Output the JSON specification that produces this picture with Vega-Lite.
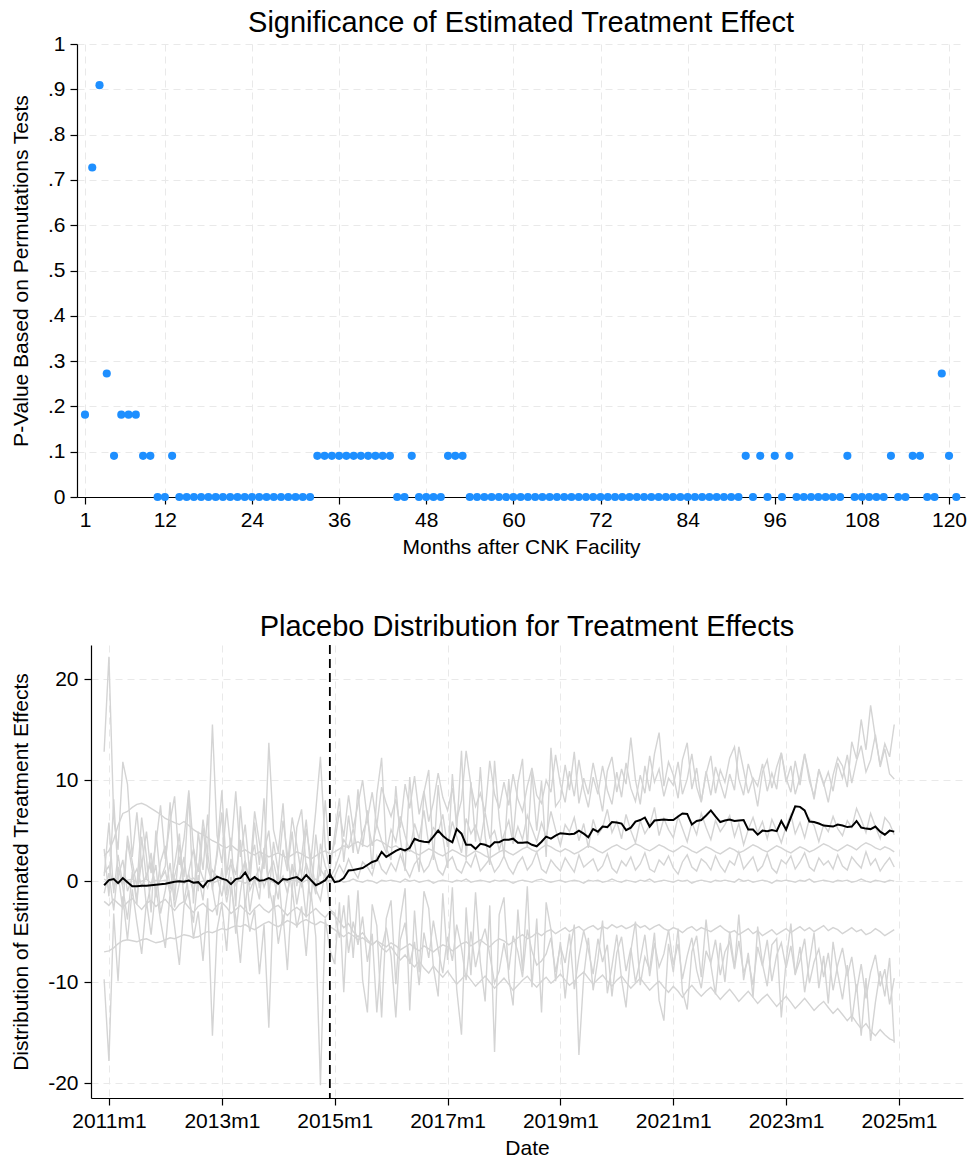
{
"$schema": "https://vega.github.io/schema/vega-lite/v6.json",
"background": "white",
"padding": {"left": 10, "top": 9, "right": 5, "bottom": 0},
"columns": 1,
"align": "none",
"spacing": 56,
"config": {
  "font": "Liberation Sans",
  "view": {"stroke": null},
  "axis": {"domainColor": "black", "domainWidth": 1.2, "tickColor": "black", "tickSize": 7, "tickWidth": 1.2, "labelColor": "black", "labelFontSize": 21, "titleColor": "black", "titleFontSize": 21, "titleFontWeight": "normal", "gridColor": "#e9e9e9", "gridDash": [7, 5], "gridWidth": 1, "labelPadding": 5, "labelFlush": false, "labelOverlap": false, "titlePadding": 6},
  "axisY": {"titlePadding": 16},
  "title": {"fontSize": 29, "fontWeight": "normal", "color": "black", "offset": -5, "anchor": "middle", "frame": "group"}
},
"concat": [
{
  "width": 874, "height": 453,
  "title": {"text": "Significance of Estimated Treatment Effect", "dx": -7},
  "data": {"values": [
{"m":1,"p":0.1818},{"m":2,"p":0.7273},{"m":3,"p":0.9091},{"m":4,"p":0.2727},{"m":5,"p":0.0909},{"m":6,"p":0.1818},{"m":7,"p":0.1818},{"m":8,"p":0.1818},{"m":9,"p":0.0909},{"m":10,"p":0.0909},
{"m":11,"p":0},{"m":12,"p":0},{"m":13,"p":0.0909},{"m":14,"p":0},{"m":15,"p":0},{"m":16,"p":0},{"m":17,"p":0},{"m":18,"p":0},{"m":19,"p":0},{"m":20,"p":0},
{"m":21,"p":0},{"m":22,"p":0},{"m":23,"p":0},{"m":24,"p":0},{"m":25,"p":0},{"m":26,"p":0},{"m":27,"p":0},{"m":28,"p":0},{"m":29,"p":0},{"m":30,"p":0},
{"m":31,"p":0},{"m":32,"p":0},{"m":33,"p":0.0909},{"m":34,"p":0.0909},{"m":35,"p":0.0909},{"m":36,"p":0.0909},{"m":37,"p":0.0909},{"m":38,"p":0.0909},{"m":39,"p":0.0909},{"m":40,"p":0.0909},
{"m":41,"p":0.0909},{"m":42,"p":0.0909},{"m":43,"p":0.0909},{"m":44,"p":0},{"m":45,"p":0},{"m":46,"p":0.0909},{"m":47,"p":0},{"m":48,"p":0},{"m":49,"p":0},{"m":50,"p":0},
{"m":51,"p":0.0909},{"m":52,"p":0.0909},{"m":53,"p":0.0909},{"m":54,"p":0},{"m":55,"p":0},{"m":56,"p":0},{"m":57,"p":0},{"m":58,"p":0},{"m":59,"p":0},{"m":60,"p":0},
{"m":61,"p":0},{"m":62,"p":0},{"m":63,"p":0},{"m":64,"p":0},{"m":65,"p":0},{"m":66,"p":0},{"m":67,"p":0},{"m":68,"p":0},{"m":69,"p":0},{"m":70,"p":0},
{"m":71,"p":0},{"m":72,"p":0},{"m":73,"p":0},{"m":74,"p":0},{"m":75,"p":0},{"m":76,"p":0},{"m":77,"p":0},{"m":78,"p":0},{"m":79,"p":0},{"m":80,"p":0},
{"m":81,"p":0},{"m":82,"p":0},{"m":83,"p":0},{"m":84,"p":0},{"m":85,"p":0},{"m":86,"p":0},{"m":87,"p":0},{"m":88,"p":0},{"m":89,"p":0},{"m":90,"p":0},
{"m":91,"p":0},{"m":92,"p":0.0909},{"m":93,"p":0},{"m":94,"p":0.0909},{"m":95,"p":0},{"m":96,"p":0.0909},{"m":97,"p":0},{"m":98,"p":0.0909},{"m":99,"p":0},{"m":100,"p":0},
{"m":101,"p":0},{"m":102,"p":0},{"m":103,"p":0},{"m":104,"p":0},{"m":105,"p":0},{"m":106,"p":0.0909},{"m":107,"p":0},{"m":108,"p":0},{"m":109,"p":0},{"m":110,"p":0},
{"m":111,"p":0},{"m":112,"p":0.0909},{"m":113,"p":0},{"m":114,"p":0},{"m":115,"p":0.0909},{"m":116,"p":0.0909},{"m":117,"p":0},{"m":118,"p":0},{"m":119,"p":0.2727},{"m":120,"p":0.0909},
{"m":121,"p":0}
  ]},
  "mark": {"type": "circle", "size": 66, "color": "#1e8fff", "opacity": 1, "clip": false},
  "encoding": {
    "x": {"field": "m", "type": "quantitative", "title": "Months after CNK Facility",
          "scale": {"domain": [-0.1, 122.2], "range": [-14, 874], "nice": false, "zero": false},
          "axis": {"values": [1, 12, 24, 36, 48, 60, 72, 84, 96, 108, 120]}},
    "y": {"field": "p", "type": "quantitative", "title": "P-Value Based on Permutations Tests",
          "scale": {"domain": [0, 1], "nice": false},
          "axis": {"offset": 14, "values": [0, 0.1, 0.2, 0.3, 0.4, 0.5, 0.6, 0.7, 0.8, 0.9, 1],
                   "labelExpr": "datum.value == 0 ? '0' : datum.value >= 1 ? '1' : replace(format(datum.value, '.1f'), '0.', '.')"}}
  }
},
{
  "width": 872, "height": 453,
  "title": {"text": "Placebo Distribution for Treatment Effects", "offset": 2},
  "data": {"values": [
{"d":"2010-12-01","b":-0.4,"a":0.2,"c":0.8,"p":12.8,"n":-9.7,"s":-7.0,"u":2.5,"q":0.5,"r":-1.2,"w":-2.0,"t":3.2},
{"d":"2011-01-01","b":0.1,"a":-0.1,"c":1.5,"p":22.2,"n":-17.8,"s":-6.9,"u":3.0,"q":5.8,"r":0.8,"w":-2.4,"t":-1.5},
{"d":"2011-02-01","b":0.2,"a":0.3,"c":-0.6,"p":6.2,"n":-3.2,"s":-6.6,"u":4.1,"q":-1.2,"r":-2.9,"w":-1.8,"t":8.1},
{"d":"2011-03-01","b":-0.2,"a":0.0,"c":0.4,"p":3.1,"n":-9.9,"s":-6.2,"u":5.5,"q":2.6,"r":1.4,"w":-2.2,"t":0.7},
{"d":"2011-04-01","b":0.3,"a":-0.2,"c":2.1,"p":11.8,"n":-1.5,"s":-5.9,"u":6.7,"q":-0.4,"r":-0.6,"w":-2.6,"t":-2.8},
{"d":"2011-05-01","b":-0.1,"a":0.1,"c":-1.0,"p":9.6,"n":-5.8,"s":-5.8,"u":6.9,"q":3.9,"r":-3.8,"w":-2.1,"t":4.5},
{"d":"2011-06-01","b":-0.5,"a":0.2,"c":0.3,"p":2.4,"n":-0.8,"s":-5.9,"u":7.3,"q":1.1,"r":0.9,"w":-1.7,"t":1.9},
{"d":"2011-07-01","b":-0.5,"a":-0.1,"c":1.2,"p":6.8,"n":-4.1,"s":-6.0,"u":7.6,"q":-2.3,"r":-1.7,"w":-2.3,"t":-0.6},
{"d":"2011-08-01","b":-0.45,"a":0.0,"c":-0.5,"p":1.5,"n":-7.2,"s":-5.8,"u":7.7,"q":4.4,"r":2.1,"w":-2.8,"t":6.3},
{"d":"2011-09-01","b":-0.45,"a":0.2,"c":0.6,"p":4.9,"n":-2.0,"s":-5.7,"u":7.5,"q":0.2,"r":-2.5,"w":-2.2,"t":2.4},
{"d":"2011-10-01","b":-0.4,"a":-0.2,"c":1.8,"p":0.8,"n":-5.3,"s":-5.9,"u":7.2,"q":2.8,"r":-0.3,"w":-1.9,"t":-3.1},
{"d":"2011-11-01","b":-0.35,"a":0.1,"c":-0.8,"p":3.7,"n":-0.6,"s":-6.1,"u":6.9,"q":-1.6,"r":1.6,"w":-2.5,"t":5.0},
{"d":"2011-12-01","b":-0.3,"a":0.0,"c":0.2,"p":7.5,"n":-3.9,"s":-6.0,"u":6.6,"q":1.9,"r":-3.2,"w":-2.1,"t":0.2},
{"d":"2012-01-01","b":-0.25,"a":0.1,"c":1.0,"p":2.2,"n":-6.6,"s":-5.8,"u":6.2,"q":3.5,"r":-0.9,"w":-1.8,"t":1.5},
{"d":"2012-02-01","b":-0.15,"a":-0.1,"c":-1.3,"p":5.9,"n":-1.2,"s":-5.6,"u":6.0,"q":-0.8,"r":1.8,"w":-2.4,"t":7.8},
{"d":"2012-03-01","b":-0.05,"a":0.2,"c":0.5,"p":8.4,"n":-4.5,"s":-5.7,"u":5.8,"q":1.6,"r":-2.6,"w":-2.9,"t":-1.9},
{"d":"2012-04-01","b":0.0,"a":0.0,"c":2.4,"p":1.6,"n":-8.3,"s":-5.5,"u":5.6,"q":4.7,"r":-0.2,"w":-2.3,"t":3.6},
{"d":"2012-05-01","b":-0.05,"a":-0.2,"c":-0.2,"p":4.2,"n":-2.4,"s":-5.3,"u":5.9,"q":-2.1,"r":2.4,"w":-2.0,"t":0.4},
{"d":"2012-06-01","b":0.05,"a":0.1,"c":0.7,"p":9.0,"n":-0.9,"s":-5.4,"u":5.5,"q":0.9,"r":-1.5,"w":-2.6,"t":8.7},
{"d":"2012-07-01","b":-0.15,"a":0.3,"c":-1.1,"p":3.3,"n":-5.7,"s":-5.6,"u":5.1,"q":3.2,"r":-4.1,"w":-3.1,"t":-2.2},
{"d":"2012-08-01","b":-0.1,"a":-0.1,"c":1.6,"p":0.9,"n":-3.0,"s":-5.5,"u":4.8,"q":-1.0,"r":0.6,"w":-2.5,"t":4.9},
{"d":"2012-09-01","b":-0.6,"a":0.0,"c":0.3,"p":6.1,"n":-7.9,"s":-5.2,"u":4.6,"q":5.3,"r":-1.9,"w":-2.2,"t":1.1},
{"d":"2012-10-01","b":0.0,"a":0.1,"c":-0.7,"p":2.7,"n":-1.7,"s":-5.0,"u":4.3,"q":1.4,"r":2.8,"w":-2.7,"t":6.6},
{"d":"2012-11-01","b":0.1,"a":-0.2,"c":1.1,"p":15.5,"n":-15.3,"s":-5.1,"u":4.0,"q":-0.3,"r":-0.7,"w":-3.0,"t":-0.9},
{"d":"2012-12-01","b":0.45,"a":0.0,"c":0.4,"p":4.5,"n":-4.8,"s":-4.9,"u":3.8,"q":2.5,"r":-3.4,"w":-2.4,"t":3.0},
{"d":"2013-01-01","b":0.25,"a":0.2,"c":-1.5,"p":1.8,"n":-2.2,"s":-4.7,"u":3.5,"q":6.8,"r":1.3,"w":-2.1,"t":9.0},
{"d":"2013-02-01","b":0.1,"a":0.0,"c":0.9,"p":7.2,"n":-6.9,"s":-4.8,"u":3.3,"q":-1.4,"r":-2.1,"w":-2.6,"t":0.6},
{"d":"2013-03-01","b":-0.3,"a":-0.1,"c":1.7,"p":3.0,"n":-0.5,"s":-4.6,"u":3.6,"q":2.2,"r":0.4,"w":-3.2,"t":4.3},
{"d":"2013-04-01","b":0.2,"a":0.1,"c":-0.4,"p":8.9,"n":-3.6,"s":-4.4,"u":3.2,"q":0.6,"r":-5.2,"w":-2.8,"t":-2.5},
{"d":"2013-05-01","b":0.3,"a":0.0,"c":0.6,"p":2.4,"n":-8.1,"s":-4.5,"u":2.9,"q":4.1,"r":-1.1,"w":-2.4,"t":7.4},
{"d":"2013-06-01","b":0.85,"a":-0.2,"c":2.0,"p":5.6,"n":-1.9,"s":-4.3,"u":3.1,"q":-2.6,"r":2.0,"w":-2.9,"t":2.0},
{"d":"2013-07-01","b":0.05,"a":0.1,"c":-0.9,"p":0.7,"n":-5.0,"s":-4.6,"u":2.8,"q":1.8,"r":-3.0,"w":-3.3,"t":-0.4},
{"d":"2013-08-01","b":0.4,"a":0.2,"c":0.2,"p":6.9,"n":-2.8,"s":-4.8,"u":2.6,"q":3.6,"r":0.2,"w":-2.7,"t":5.8},
{"d":"2013-09-01","b":0.05,"a":-0.1,"c":1.3,"p":3.8,"n":-9.2,"s":-4.5,"u":2.9,"q":-0.7,"r":-1.8,"w":-2.3,"t":1.6},
{"d":"2013-10-01","b":0.1,"a":0.0,"c":-0.6,"p":1.2,"n":-4.3,"s":-4.2,"u":2.7,"q":2.9,"r":3.3,"w":-2.8,"t":8.2},
{"d":"2013-11-01","b":0.3,"a":0.1,"c":0.8,"p":13.7,"n":-14.5,"s":-4.0,"u":2.4,"q":5.0,"r":-0.6,"w":-3.1,"t":-1.7},
{"d":"2013-12-01","b":0.1,"a":-0.1,"c":1.9,"p":5.1,"n":-1.4,"s":-4.3,"u":2.6,"q":0.4,"r":-2.7,"w":-2.6,"t":3.9},
{"d":"2014-01-01","b":-0.25,"a":0.0,"c":-0.3,"p":2.9,"n":-6.2,"s":-4.5,"u":2.8,"q":-1.8,"r":0.9,"w":-2.4,"t":0.9},
{"d":"2014-02-01","b":0.2,"a":0.2,"c":0.5,"p":7.7,"n":-3.3,"s":-4.2,"u":2.5,"q":3.1,"r":-4.4,"w":-2.9,"t":6.0},
{"d":"2014-03-01","b":0.15,"a":-0.1,"c":-1.2,"p":1.4,"n":-8.8,"s":-3.9,"u":2.3,"q":1.0,"r":-1.3,"w":-3.4,"t":2.7},
{"d":"2014-04-01","b":0.3,"a":0.1,"c":1.4,"p":6.3,"n":-0.7,"s":-4.1,"u":2.6,"q":4.9,"r":1.7,"w":-2.9,"t":-1.1},
{"d":"2014-05-01","b":0.4,"a":0.0,"c":0.7,"p":3.6,"n":-4.6,"s":-4.4,"u":2.9,"q":-0.5,"r":-2.3,"w":-2.6,"t":5.3},
{"d":"2014-06-01","b":0.05,"a":-0.2,"c":-0.5,"p":0.5,"n":-2.5,"s":-4.0,"u":2.7,"q":2.4,"r":0.5,"w":-3.0,"t":7.1},
{"d":"2014-07-01","b":0.6,"a":0.1,"c":1.8,"p":5.2,"n":-7.4,"s":-3.8,"u":2.4,"q":6.1,"r":-3.6,"w":-3.5,"t":1.3},
{"d":"2014-08-01","b":0.1,"a":0.0,"c":0.1,"p":2.1,"n":-1.1,"s":-4.1,"u":2.2,"q":0.8,"r":2.2,"w":-3.1,"t":-2.0},
{"d":"2014-09-01","b":-0.4,"a":0.2,"c":-0.8,"p":7.0,"n":-5.5,"s":-4.3,"u":2.5,"q":-1.3,"r":-0.8,"w":-2.7,"t":4.6},
{"d":"2014-10-01","b":-0.2,"a":-0.1,"c":1.2,"p":12.3,"n":-20.2,"s":-4.0,"u":2.8,"q":3.7,"r":-1.9,"w":-3.2,"t":0.5},
{"d":"2014-11-01","b":0.1,"a":0.0,"c":0.4,"p":3.4,"n":-3.7,"s":-4.2,"u":3.0,"q":1.5,"r":1.1,"w":-3.6,"t":8.0},
{"d":"2014-12-01","b":0.7,"a":0.1,"c":-0.2,"p":1.0,"n":-6.8,"s":-4.5,"u":2.7,"q":0.3,"r":-2.8,"w":-3.0,"t":2.1},
{"d":"2015-01-01","b":-0.1,"a":0.0,"c":0.5,"p":4.6,"n":-8.2,"s":-4.8,"u":2.9,"q":1.2,"r":-3.2,"w":-3.4,"t":3.8},
{"d":"2015-02-01","b":0.0,"a":0.1,"c":1.6,"p":8.2,"n":-2.1,"s":-5.2,"u":3.2,"q":2.6,"r":-5.6,"w":-4.0,"t":6.9},
{"d":"2015-03-01","b":0.3,"a":-0.1,"c":0.8,"p":1.9,"n":-11.0,"s":-5.5,"u":3.5,"q":4.1,"r":-2.4,"w":-4.6,"t":4.4},
{"d":"2015-04-01","b":1.05,"a":0.0,"c":2.2,"p":6.5,"n":-1.4,"s":-5.1,"u":3.3,"q":3.3,"r":-7.1,"w":-4.2,"t":8.5},
{"d":"2015-05-01","b":1.1,"a":0.2,"c":1.1,"p":2.8,"n":-7.6,"s":-5.4,"u":3.7,"q":5.2,"r":-4.0,"w":-5.0,"t":5.2},
{"d":"2015-06-01","b":1.2,"a":0.0,"c":0.3,"p":9.1,"n":-0.9,"s":-5.8,"u":3.9,"q":2.7,"r":-6.3,"w":-5.5,"t":7.6},
{"d":"2015-07-01","b":1.3,"a":-0.1,"c":1.9,"p":3.4,"n":-9.8,"s":-5.6,"u":3.6,"q":4.8,"r":-3.5,"w":-5.1,"t":10.0},
{"d":"2015-08-01","b":1.6,"a":0.1,"c":1.4,"p":7.0,"n":-13.0,"s":-6.0,"u":3.4,"q":6.1,"r":-8.0,"w":-5.8,"t":6.1},
{"d":"2015-09-01","b":1.9,"a":0.0,"c":0.6,"p":1.2,"n":-2.3,"s":-6.3,"u":3.8,"q":3.5,"r":-5.2,"w":-6.3,"t":8.8},
{"d":"2015-10-01","b":2.05,"a":-0.2,"c":2.5,"p":8.6,"n":-4.4,"s":-5.9,"u":4.1,"q":5.6,"r":-13.0,"w":-5.9,"t":5.5},
{"d":"2015-11-01","b":2.9,"a":0.1,"c":1.2,"p":12.2,"n":-13.5,"s":-6.2,"u":3.9,"q":4.0,"r":-6.7,"w":-6.6,"t":9.3},
{"d":"2015-12-01","b":2.4,"a":0.0,"c":0.7,"p":3.3,"n":-3.7,"s":-6.5,"u":3.6,"q":2.8,"r":-4.6,"w":-7.0,"t":7.7},
{"d":"2016-01-01","b":2.7,"a":0.1,"c":1.8,"p":2.1,"n":-1.9,"s":-6.1,"u":3.3,"q":5.1,"r":-7.4,"w":-6.5,"t":6.4},
{"d":"2016-02-01","b":3.0,"a":0.0,"c":1.0,"p":9.4,"n":-10.2,"s":-6.4,"u":3.5,"q":3.9,"r":-13.5,"w":-7.2,"t":8.1},
{"d":"2016-03-01","b":3.2,"a":-0.1,"c":2.6,"p":4.2,"n":-3.8,"s":-6.8,"u":3.2,"q":6.4,"r":-5.8,"w":-7.8,"t":5.3},
{"d":"2016-04-01","b":3.05,"a":0.2,"c":1.3,"p":1.0,"n":-0.7,"s":-6.5,"u":2.9,"q":4.5,"r":-4.1,"w":-7.3,"t":9.6},
{"d":"2016-05-01","b":3.3,"a":0.0,"c":0.4,"p":10.3,"n":-12.8,"s":-6.2,"u":3.1,"q":2.9,"r":-8.2,"w":-8.0,"t":7.2},
{"d":"2016-06-01","b":4.2,"a":0.1,"c":1.7,"p":3.8,"n":-2.9,"s":-6.6,"u":2.8,"q":5.7,"r":-6.0,"w":-8.5,"t":10.4},
{"d":"2016-07-01","b":4.0,"a":-0.1,"c":2.3,"p":0.9,"n":-9.0,"s":-6.9,"u":2.6,"q":4.2,"r":-10.3,"w":-7.9,"t":6.6},
{"d":"2016-08-01","b":3.9,"a":0.0,"c":0.9,"p":8.8,"n":-1.0,"s":-6.4,"u":2.9,"q":7.0,"r":-5.1,"w":-8.6,"t":8.9},
{"d":"2016-09-01","b":3.85,"a":0.1,"c":1.5,"p":11.0,"n":-2.7,"s":-6.7,"u":3.2,"q":3.6,"r":-7.6,"w":-9.1,"t":5.9},
{"d":"2016-10-01","b":4.4,"a":-0.2,"c":2.8,"p":2.1,"n":-8.5,"s":-7.0,"u":3.0,"q":5.3,"r":-3.9,"w":-8.4,"t":7.8},
{"d":"2016-11-01","b":5.0,"a":0.0,"c":1.1,"p":9.5,"n":-11.4,"s":-6.6,"u":2.7,"q":4.8,"r":-6.8,"w":-9.0,"t":10.7},
{"d":"2016-12-01","b":4.5,"a":0.1,"c":0.6,"p":4.4,"n":-1.2,"s":-6.3,"u":2.5,"q":6.6,"r":-9.1,"w":-9.5,"t":8.3},
{"d":"2017-01-01","b":4.1,"a":0.0,"c":1.9,"p":1.3,"n":-7.8,"s":-6.5,"u":2.8,"q":3.4,"r":-5.5,"w":-8.9,"t":7.0},
{"d":"2017-02-01","b":3.85,"a":-0.1,"c":2.4,"p":10.6,"n":-0.6,"s":-6.9,"u":3.1,"q":5.9,"r":-7.9,"w":-9.6,"t":9.2},
{"d":"2017-03-01","b":5.15,"a":0.1,"c":1.2,"p":5.0,"n":-10.7,"s":-6.6,"u":2.9,"q":4.4,"r":-4.3,"w":-10.2,"t":6.1},
{"d":"2017-04-01","b":4.7,"a":0.0,"c":0.8,"p":12.9,"n":-15.2,"s":-6.2,"u":2.6,"q":2.8,"r":-6.6,"w":-9.7,"t":8.0},
{"d":"2017-05-01","b":3.6,"a":0.2,"c":2.0,"p":2.1,"n":-2.6,"s":-6.0,"u":2.4,"q":6.2,"r":-9.8,"w":-9.2,"t":12.9},
{"d":"2017-06-01","b":3.6,"a":-0.1,"c":1.4,"p":9.8,"n":-9.3,"s":-6.4,"u":2.7,"q":4.7,"r":-5.0,"w":-9.8,"t":9.5},
{"d":"2017-07-01","b":3.2,"a":0.0,"c":2.7,"p":3.9,"n":-1.1,"s":-6.1,"u":3.0,"q":5.5,"r":-8.5,"w":-10.4,"t":7.4},
{"d":"2017-08-01","b":3.7,"a":0.1,"c":1.0,"p":11.3,"n":-8.0,"s":-5.8,"u":2.8,"q":3.8,"r":-6.2,"w":-9.9,"t":8.7},
{"d":"2017-09-01","b":3.6,"a":0.0,"c":1.6,"p":4.4,"n":-11.9,"s":-6.2,"u":2.5,"q":6.8,"r":-4.7,"w":-9.4,"t":6.8},
{"d":"2017-10-01","b":3.4,"a":-0.1,"c":2.2,"p":1.6,"n":-2.4,"s":-6.5,"u":2.3,"q":4.3,"r":-7.3,"w":-10.0,"t":11.9},
{"d":"2017-11-01","b":3.85,"a":0.1,"c":0.9,"p":11.9,"n":-16.9,"s":-6.0,"u":2.6,"q":5.0,"r":-10.1,"w":-10.6,"t":8.6},
{"d":"2017-12-01","b":3.85,"a":0.0,"c":1.5,"p":6.2,"n":-3.3,"s":-5.7,"u":2.9,"q":3.1,"r":-8.9,"w":-10.1,"t":7.2},
{"d":"2018-01-01","b":4.1,"a":0.1,"c":2.5,"p":2.5,"n":-1.6,"s":-5.9,"u":3.1,"q":4.6,"r":-6.1,"w":-9.6,"t":9.8},
{"d":"2018-02-01","b":4.1,"a":0.0,"c":1.3,"p":10.1,"n":-9.6,"s":-6.3,"u":2.8,"q":6.0,"r":-8.8,"w":-10.2,"t":7.5},
{"d":"2018-03-01","b":4.2,"a":-0.2,"c":0.7,"p":4.2,"n":-12.3,"s":-6.0,"u":2.6,"q":3.7,"r":-5.4,"w":-10.8,"t":10.6},
{"d":"2018-04-01","b":3.8,"a":0.0,"c":1.8,"p":9.7,"n":-2.8,"s":-5.6,"u":2.9,"q":5.4,"r":-7.0,"w":-10.3,"t":8.1},
{"d":"2018-05-01","b":3.8,"a":0.1,"c":2.4,"p":12.1,"n":-8.9,"s":-5.3,"u":3.2,"q":4.1,"r":-9.5,"w":-9.8,"t":6.9},
{"d":"2018-06-01","b":3.85,"a":0.0,"c":1.1,"p":3.3,"n":-0.5,"s":-5.7,"u":3.4,"q":6.5,"r":-4.8,"w":-9.4,"t":9.4},
{"d":"2018-07-01","b":3.6,"a":-0.1,"c":1.7,"p":10.8,"n":-10.5,"s":-5.5,"u":3.1,"q":5.2,"r":-6.9,"w":-10.0,"t":11.2},
{"d":"2018-08-01","b":3.45,"a":0.1,"c":2.9,"p":5.0,"n":-3.7,"s":-5.1,"u":2.9,"q":3.9,"r":-8.3,"w":-10.5,"t":8.5},
{"d":"2018-09-01","b":3.9,"a":0.2,"c":1.2,"p":9.9,"n":-13.0,"s":-5.4,"u":3.3,"q":5.8,"r":-7.9,"w":-9.9,"t":7.7},
{"d":"2018-10-01","b":4.4,"a":0.0,"c":0.8,"p":2.4,"n":-2.1,"s":-5.0,"u":3.6,"q":4.4,"r":-7.2,"w":-9.5,"t":10.0},
{"d":"2018-11-01","b":4.2,"a":-0.1,"c":2.1,"p":13.2,"n":-4.8,"s":-4.8,"u":3.4,"q":6.9,"r":-5.6,"w":-10.1,"t":8.8},
{"d":"2018-12-01","b":4.5,"a":0.0,"c":1.5,"p":7.4,"n":-9.9,"s":-5.2,"u":3.1,"q":5.1,"r":-9.0,"w":-9.7,"t":12.5},
{"d":"2019-01-01","b":4.75,"a":0.1,"c":1.0,"p":8.1,"n":-6.0,"s":-4.9,"u":2.9,"q":3.5,"r":-6.4,"w":-9.2,"t":9.6},
{"d":"2019-02-01","b":4.7,"a":-0.1,"c":2.3,"p":11.5,"n":-11.6,"s":-4.6,"u":3.2,"q":5.6,"r":-8.1,"w":-9.8,"t":7.8},
{"d":"2019-03-01","b":4.65,"a":0.0,"c":1.6,"p":9.0,"n":-7.2,"s":-5.0,"u":3.0,"q":4.9,"r":-5.2,"w":-10.3,"t":10.9},
{"d":"2019-04-01","b":4.7,"a":0.1,"c":0.9,"p":12.8,"n":-4.3,"s":-4.7,"u":2.7,"q":6.3,"r":-10.7,"w":-9.9,"t":8.4},
{"d":"2019-05-01","b":5.0,"a":0.0,"c":2.6,"p":7.7,"n":-17.2,"s":-4.5,"u":2.9,"q":4.0,"r":-7.5,"w":-9.4,"t":12.0},
{"d":"2019-06-01","b":4.7,"a":-0.2,"c":1.4,"p":10.2,"n":-9.4,"s":-4.9,"u":3.2,"q":5.7,"r":-4.9,"w":-9.0,"t":9.1},
{"d":"2019-07-01","b":4.35,"a":0.1,"c":1.8,"p":8.6,"n":-5.6,"s":-4.6,"u":3.5,"q":3.3,"r":-6.8,"w":-9.6,"t":7.3},
{"d":"2019-08-01","b":5.15,"a":0.0,"c":2.2,"p":11.7,"n":-10.8,"s":-4.4,"u":3.3,"q":6.1,"r":-9.2,"w":-10.2,"t":10.3},
{"d":"2019-09-01","b":4.9,"a":0.1,"c":1.0,"p":9.3,"n":-7.7,"s":-4.8,"u":3.0,"q":4.6,"r":-5.7,"w":-9.7,"t":8.6},
{"d":"2019-10-01","b":5.4,"a":-0.1,"c":1.5,"p":6.9,"n":-3.9,"s":-4.5,"u":2.8,"q":5.3,"r":-8.0,"w":-9.3,"t":11.4},
{"d":"2019-11-01","b":5.35,"a":0.0,"c":2.7,"p":10.9,"n":-11.1,"s":-4.7,"u":3.1,"q":7.1,"r":-6.3,"w":-9.9,"t":9.0},
{"d":"2019-12-01","b":5.85,"a":0.2,"c":1.3,"p":12.3,"n":-8.4,"s":-4.3,"u":3.4,"q":4.8,"r":-11.4,"w":-10.4,"t":7.6},
{"d":"2020-01-01","b":5.8,"a":0.0,"c":0.8,"p":8.8,"n":-5.3,"s":-4.6,"u":3.6,"q":5.9,"r":-7.1,"w":-9.8,"t":10.8},
{"d":"2020-02-01","b":5.7,"a":-0.1,"c":2.0,"p":11.1,"n":-9.7,"s":-4.4,"u":3.3,"q":4.2,"r":-5.5,"w":-9.4,"t":8.3},
{"d":"2020-03-01","b":5.05,"a":0.1,"c":1.5,"p":9.6,"n":-12.5,"s":-4.7,"u":3.1,"q":6.6,"r":-8.9,"w":-10.0,"t":11.7},
{"d":"2020-04-01","b":5.3,"a":0.0,"c":2.4,"p":14.2,"n":-6.9,"s":-4.5,"u":3.4,"q":5.0,"r":-6.6,"w":-10.6,"t":9.2},
{"d":"2020-05-01","b":5.9,"a":-0.1,"c":1.1,"p":10.0,"n":-4.0,"s":-4.2,"u":3.7,"q":3.8,"r":-10.0,"w":-10.1,"t":7.9},
{"d":"2020-06-01","b":6.05,"a":0.1,"c":1.7,"p":7.6,"n":-10.3,"s":-4.6,"u":3.5,"q":6.0,"r":-7.8,"w":-9.6,"t":10.5},
{"d":"2020-07-01","b":6.3,"a":0.0,"c":2.8,"p":11.4,"n":-7.5,"s":-4.4,"u":3.2,"q":4.7,"r":-5.3,"w":-10.2,"t":8.7},
{"d":"2020-08-01","b":5.4,"a":0.2,"c":1.2,"p":8.9,"n":-8.8,"s":-4.8,"u":3.0,"q":5.5,"r":-9.4,"w":-10.8,"t":12.4},
{"d":"2020-09-01","b":6.0,"a":-0.1,"c":0.9,"p":12.6,"n":-5.1,"s":-4.5,"u":3.3,"q":7.3,"r":-6.1,"w":-10.3,"t":9.8},
{"d":"2020-10-01","b":6.05,"a":0.0,"c":2.1,"p":14.7,"n":-11.8,"s":-4.3,"u":3.6,"q":4.5,"r":-8.5,"w":-9.9,"t":11.1},
{"d":"2020-11-01","b":6.1,"a":0.1,"c":1.6,"p":9.4,"n":-13.8,"s":-4.7,"u":3.4,"q":6.2,"r":-7.2,"w":-10.5,"t":8.4},
{"d":"2020-12-01","b":6.05,"a":0.0,"c":2.5,"p":11.8,"n":-6.2,"s":-4.9,"u":3.1,"q":5.1,"r":-4.8,"w":-11.0,"t":10.2},
{"d":"2021-01-01","b":6.05,"a":-0.1,"c":1.3,"p":10.5,"n":-9.0,"s":-4.6,"u":2.9,"q":4.3,"r":-8.3,"w":-10.4,"t":9.5},
{"d":"2021-02-01","b":6.4,"a":0.1,"c":0.7,"p":8.2,"n":-4.7,"s":-4.8,"u":3.2,"q":6.4,"r":-6.2,"w":-10.9,"t":11.8},
{"d":"2021-03-01","b":6.7,"a":0.0,"c":1.9,"p":12.0,"n":-10.9,"s":-5.1,"u":3.5,"q":5.2,"r":-9.7,"w":-11.5,"t":8.6},
{"d":"2021-04-01","b":6.65,"a":0.1,"c":2.6,"p":13.7,"n":-12.7,"s":-4.7,"u":3.3,"q":3.9,"r":-7.4,"w":-10.8,"t":10.1},
{"d":"2021-05-01","b":5.6,"a":-0.2,"c":1.4,"p":9.1,"n":-7.0,"s":-4.5,"u":3.0,"q":5.8,"r":-5.6,"w":-10.3,"t":12.6},
{"d":"2021-06-01","b":5.95,"a":0.0,"c":1.0,"p":11.2,"n":-5.4,"s":-4.9,"u":2.8,"q":4.6,"r":-8.8,"w":-10.9,"t":9.3},
{"d":"2021-07-01","b":6.05,"a":0.1,"c":2.2,"p":7.9,"n":-9.5,"s":-4.6,"u":3.1,"q":6.7,"r":-10.6,"w":-11.4,"t":7.8},
{"d":"2021-08-01","b":6.5,"a":0.0,"c":1.8,"p":10.6,"n":-3.8,"s":-4.8,"u":3.4,"q":5.3,"r":-6.9,"w":-10.9,"t":10.9},
{"d":"2021-09-01","b":7.0,"a":-0.1,"c":1.1,"p":12.4,"n":-8.3,"s":-5.0,"u":3.2,"q":4.1,"r":-8.1,"w":-10.5,"t":8.5},
{"d":"2021-10-01","b":6.4,"a":0.1,"c":2.5,"p":8.7,"n":-11.2,"s":-4.7,"u":2.9,"q":6.0,"r":-5.8,"w":-11.1,"t":11.3},
{"d":"2021-11-01","b":5.85,"a":0.0,"c":1.5,"p":11.0,"n":-6.1,"s":-4.4,"u":2.7,"q":4.9,"r":-9.3,"w":-11.7,"t":9.7},
{"d":"2021-12-01","b":6.0,"a":0.1,"c":0.9,"p":9.8,"n":-10.0,"s":-4.8,"u":3.0,"q":5.6,"r":-7.0,"w":-11.2,"t":8.2},
{"d":"2022-01-01","b":6.1,"a":0.0,"c":2.0,"p":12.2,"n":-5.0,"s":-5.1,"u":3.3,"q":6.5,"r":-6.0,"w":-10.7,"t":10.6},
{"d":"2022-02-01","b":5.95,"a":-0.1,"c":1.6,"p":13.3,"n":-8.6,"s":-4.9,"u":3.1,"q":4.4,"r":-8.7,"w":-11.3,"t":9.0},
{"d":"2022-03-01","b":6.0,"a":0.2,"c":2.9,"p":10.1,"n":-3.3,"s":-5.3,"u":2.8,"q":5.7,"r":-5.9,"w":-11.9,"t":13.3},
{"d":"2022-04-01","b":6.05,"a":0.0,"c":1.2,"p":8.5,"n":-9.8,"s":-5.0,"u":3.0,"q":3.6,"r":-9.1,"w":-11.4,"t":11.0},
{"d":"2022-05-01","b":5.1,"a":0.1,"c":1.8,"p":11.6,"n":-7.1,"s":-4.7,"u":3.3,"q":5.1,"r":-7.7,"w":-10.9,"t":8.7},
{"d":"2022-06-01","b":5.1,"a":-0.1,"c":2.4,"p":9.9,"n":-11.5,"s":-5.2,"u":3.6,"q":6.3,"r":-10.3,"w":-11.5,"t":10.2},
{"d":"2022-07-01","b":4.6,"a":0.0,"c":1.0,"p":7.4,"n":-4.5,"s":-4.9,"u":3.4,"q":4.8,"r":-6.5,"w":-12.1,"t":9.4},
{"d":"2022-08-01","b":5.0,"a":0.1,"c":1.5,"p":10.8,"n":-8.2,"s":-5.4,"u":3.1,"q":5.9,"r":-8.4,"w":-11.6,"t":11.6},
{"d":"2022-09-01","b":4.95,"a":0.0,"c":2.7,"p":12.0,"n":-10.4,"s":-5.1,"u":2.9,"q":4.2,"r":-5.8,"w":-11.2,"t":8.9},
{"d":"2022-10-01","b":5.05,"a":-0.2,"c":1.3,"p":9.2,"n":-6.3,"s":-4.8,"u":3.2,"q":6.1,"r":-9.9,"w":-11.8,"t":10.7},
{"d":"2022-11-01","b":4.95,"a":0.1,"c":0.8,"p":11.3,"n":-5.7,"s":-5.3,"u":3.5,"q":5.0,"r":-7.3,"w":-12.4,"t":9.1},
{"d":"2022-12-01","b":5.95,"a":0.0,"c":2.1,"p":12.7,"n":-13.5,"s":-5.0,"u":3.3,"q":3.8,"r":-6.1,"w":-11.9,"t":12.7},
{"d":"2023-01-01","b":5.1,"a":0.1,"c":1.7,"p":10.2,"n":-7.9,"s":-4.7,"u":3.0,"q":5.4,"r":-8.6,"w":-11.4,"t":9.8},
{"d":"2023-02-01","b":6.3,"a":0.0,"c":2.5,"p":8.8,"n":-4.2,"s":-5.1,"u":2.8,"q":6.6,"r":-6.4,"w":-12.0,"t":11.4},
{"d":"2023-03-01","b":7.4,"a":-0.1,"c":1.2,"p":11.9,"n":-9.3,"s":-4.8,"u":3.1,"q":4.7,"r":-9.2,"w":-12.6,"t":8.6},
{"d":"2023-04-01","b":7.35,"a":0.1,"c":1.9,"p":9.5,"n":-6.5,"s":-4.5,"u":3.4,"q":5.8,"r":-7.8,"w":-12.1,"t":10.3},
{"d":"2023-05-01","b":7.0,"a":0.0,"c":2.8,"p":12.6,"n":-11.0,"s":-4.9,"u":3.2,"q":4.3,"r":-5.7,"w":-11.6,"t":12.6},
{"d":"2023-06-01","b":5.9,"a":0.2,"c":1.4,"p":10.4,"n":-8.0,"s":-4.6,"u":2.9,"q":6.2,"r":-10.1,"w":-12.2,"t":9.9},
{"d":"2023-07-01","b":5.85,"a":-0.1,"c":1.0,"p":8.1,"n":-5.1,"s":-5.0,"u":3.1,"q":5.5,"r":-8.0,"w":-12.8,"t":8.4},
{"d":"2023-08-01","b":5.7,"a":0.0,"c":2.3,"p":11.1,"n":-10.6,"s":-4.7,"u":3.4,"q":3.9,"r":-6.7,"w":-12.3,"t":11.0},
{"d":"2023-09-01","b":5.5,"a":0.1,"c":1.6,"p":9.7,"n":-7.4,"s":-4.4,"u":3.7,"q":5.6,"r":-9.5,"w":-11.9,"t":9.5},
{"d":"2023-10-01","b":5.45,"a":0.0,"c":2.0,"p":7.8,"n":-12.1,"s":-4.9,"u":3.5,"q":4.9,"r":-7.1,"w":-12.5,"t":10.8},
{"d":"2023-11-01","b":5.4,"a":-0.1,"c":1.2,"p":10.5,"n":-6.0,"s":-4.6,"u":3.2,"q":6.4,"r":-10.8,"w":-13.1,"t":8.9},
{"d":"2023-12-01","b":5.6,"a":0.1,"c":2.6,"p":12.2,"n":-9.1,"s":-4.8,"u":3.0,"q":5.2,"r":-8.3,"w":-12.6,"t":11.7},
{"d":"2024-01-01","b":5.5,"a":0.0,"c":1.5,"p":11.4,"n":-11.7,"s":-5.2,"u":3.3,"q":4.5,"r":-6.6,"w":-13.2,"t":10.2},
{"d":"2024-02-01","b":5.35,"a":0.1,"c":1.1,"p":9.3,"n":-8.3,"s":-4.9,"u":3.6,"q":6.0,"r":-9.4,"w":-13.8,"t":12.5},
{"d":"2024-03-01","b":5.4,"a":-0.1,"c":2.4,"p":13.8,"n":-13.9,"s":-4.6,"u":3.4,"q":5.3,"r":-7.5,"w":-13.3,"t":9.7},
{"d":"2024-04-01","b":5.95,"a":0.0,"c":1.8,"p":12.1,"n":-10.2,"s":-5.0,"u":3.1,"q":7.2,"r":-10.9,"w":-14.0,"t":11.9},
{"d":"2024-05-01","b":5.3,"a":0.2,"c":1.3,"p":16.0,"n":-15.3,"s":-4.8,"u":3.5,"q":6.1,"r":-8.2,"w":-14.6,"t":13.4},
{"d":"2024-06-01","b":5.2,"a":0.0,"c":2.9,"p":13.0,"n":-9.6,"s":-5.3,"u":3.8,"q":4.8,"r":-11.6,"w":-14.1,"t":10.8},
{"d":"2024-07-01","b":5.15,"a":-0.1,"c":1.6,"p":17.4,"n":-15.8,"s":-5.1,"u":3.6,"q":6.7,"r":-9.0,"w":-14.8,"t":12.0},
{"d":"2024-08-01","b":5.4,"a":0.1,"c":2.2,"p":14.2,"n":-12.0,"s":-4.7,"u":3.3,"q":5.4,"r":-7.3,"w":-15.3,"t":14.5},
{"d":"2024-09-01","b":4.9,"a":0.0,"c":1.0,"p":11.5,"n":-8.9,"s":-5.0,"u":3.1,"q":4.2,"r":-10.4,"w":-14.7,"t":11.3},
{"d":"2024-10-01","b":4.6,"a":-0.1,"c":1.7,"p":13.6,"n":-11.4,"s":-5.4,"u":3.4,"q":6.3,"r":-8.7,"w":-15.2,"t":13.1},
{"d":"2024-11-01","b":5.0,"a":0.1,"c":2.3,"p":12.3,"n":-7.6,"s":-5.1,"u":3.2,"q":5.7,"r":-12.2,"w":-15.6,"t":10.6},
{"d":"2024-12-01","b":4.9,"a":0.0,"c":1.4,"p":15.5,"n":-16.0,"s":-4.8,"u":2.9,"q":4.6,"r":-9.6,"w":-15.8,"t":10.1}
  ]},
  "encoding": {
    "x": {"field": "d", "type": "temporal", "title": "Date",
          "scale": {"type": "utc", "nice": false, "domain": [{"year": 2010, "month": 9, "date": 7, "utc": true}, {"year": 2026, "month": 2, "date": 19, "utc": true}]},
          "axis": {"values": [{"year": 2011, "month": 1, "date": 1, "utc": true}, {"year": 2013, "month": 1, "date": 1, "utc": true}, {"year": 2015, "month": 1, "date": 1, "utc": true}, {"year": 2017, "month": 1, "date": 1, "utc": true}, {"year": 2019, "month": 1, "date": 1, "utc": true}, {"year": 2021, "month": 1, "date": 1, "utc": true}, {"year": 2023, "month": 1, "date": 1, "utc": true}, {"year": 2025, "month": 1, "date": 1, "utc": true}],
                   "labelExpr": "utcFormat(datum.value, '%Y') + 'm' + (utcmonth(datum.value) + 1)"}}
  },
  "layer": [
    {
      "transform": [{"fold": ["a", "c", "p", "n", "s", "u", "q", "r", "w", "t"], "as": ["series", "val"]}],
      "mark": {"type": "line", "color": "#d4d4d4", "strokeWidth": 1.4},
      "encoding": {
        "y": {"field": "val", "type": "quantitative", "title": "Distribution of Estimated Treatment Effects",
              "scale": {"domain": [-21.46, 23.37], "nice": false, "zero": false},
              "axis": {"values": [-20, -10, 0, 10, 20], "labelExpr": "'' + datum.value", "labelPadding": 6}},
        "detail": {"field": "series", "type": "nominal"}
      }
    },
    {
      "data": {"values": [{"d": "2014-12-01"}]},
      "mark": {"type": "rule", "color": "black", "strokeDash": [9, 5], "strokeWidth": 1.8}
    },
    {
      "mark": {"type": "line", "color": "black", "strokeWidth": 2},
      "encoding": {
        "y": {"field": "b", "type": "quantitative", "title": "Distribution of Estimated Treatment Effects"}
      }
    }
  ]
}
]
}
